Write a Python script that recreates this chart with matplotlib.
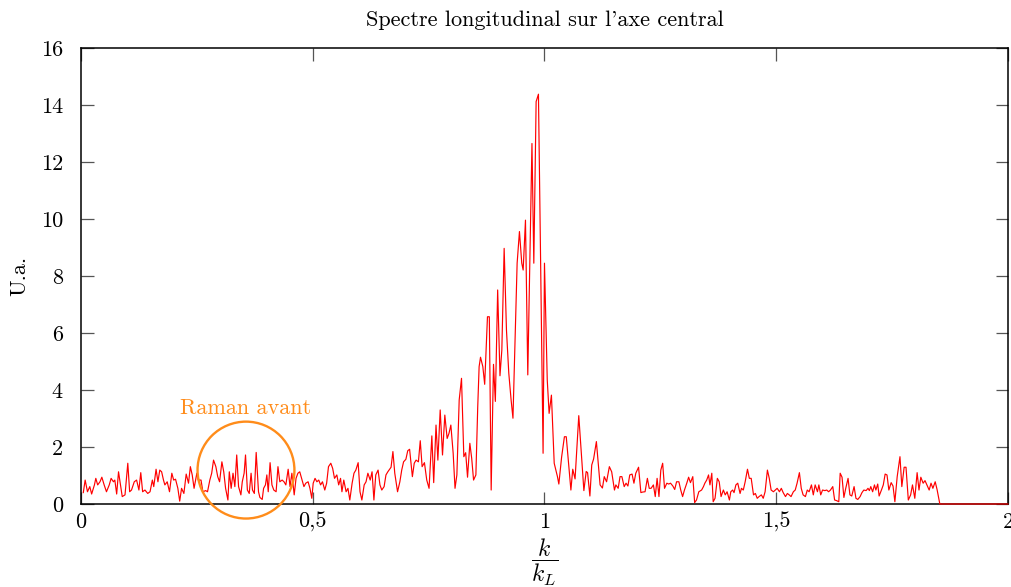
import matplotlib
matplotlib.use("Agg")
import matplotlib.pyplot as plt
from matplotlib.patches import Ellipse

# ---------------- data ----------------
k_values = [
    0.005, 0.009, 0.014, 0.019, 0.023, 0.029, 0.032, 0.036, 0.041, 0.045,
    0.050, 0.055, 0.061, 0.065, 0.070, 0.073, 0.077, 0.081, 0.085, 0.089,
    0.095, 0.101, 0.105, 0.109, 0.115, 0.120, 0.125, 0.129, 0.133, 0.138,
    0.144, 0.149, 0.154, 0.157, 0.162, 0.166, 0.170, 0.174, 0.178, 0.181,
    0.186, 0.191, 0.196, 0.200, 0.204, 0.209, 0.213, 0.217, 0.222, 0.227,
    0.232, 0.236, 0.240, 0.244, 0.250, 0.253, 0.259, 0.263, 0.269, 0.273,
    0.278, 0.282, 0.286, 0.291, 0.295, 0.299, 0.304, 0.308, 0.312, 0.317,
    0.320, 0.324, 0.328,
    0.332, 0.336, 0.340, 0.345, 0.348, 0.352, 0.355, 0.359, 0.363, 0.367,
    0.370, 0.374, 0.378, 0.383, 0.386, 0.391, 0.394, 0.398, 0.401, 0.404,
    0.408, 0.412, 0.416, 0.421, 0.425, 0.429, 0.434, 0.438, 0.442, 0.447,
    0.451, 0.455, 0.460, 0.464, 0.468, 0.472, 0.477, 0.481, 0.485, 0.490,
    0.494, 0.498, 0.501, 0.505, 0.509, 0.513, 0.517, 0.521, 0.526, 0.530,
    0.534, 0.539, 0.543, 0.547, 0.552, 0.556, 0.560, 0.563, 0.567, 0.572,
    0.576, 0.580, 0.585, 0.589, 0.593, 0.598, 0.602, 0.606, 0.611, 0.615,
    0.619, 0.624, 0.628, 0.632, 0.636, 0.641, 0.645, 0.649, 0.654, 0.658,
    0.662,
    0.669, 0.673, 0.677, 0.683, 0.688, 0.692, 0.696, 0.701, 0.705, 0.709,
    0.715, 0.719, 0.723, 0.728, 0.732, 0.736, 0.741,
    0.746, 0.751, 0.757, 0.761, 0.766, 0.770, 0.775, 0.780, 0.785, 0.790,
    0.794, 0.798, 0.803, 0.807, 0.811, 0.816, 0.821, 0.826, 0.830, 0.834,
    0.839, 0.843, 0.847, 0.852, 0.856, 0.859,
    0.862, 0.867, 0.871, 0.877, 0.881, 0.885, 0.890, 0.894, 0.899, 0.904,
    0.908, 0.913, 0.918, 0.923, 0.928, 0.932, 0.937, 0.941, 0.946,
    0.951, 0.954, 0.959, 0.964, 0.973, 0.977, 0.982, 0.987, 0.997, 1.000,
    1.006, 1.010, 1.015, 1.021, 1.028,
    1.031, 1.037, 1.043, 1.047, 1.057, 1.061, 1.066, 1.074, 1.085, 1.090,
    1.093, 1.098, 1.102, 1.106, 1.112, 1.120, 1.125, 1.129, 1.134, 1.140,
    1.145, 1.151,
    1.154, 1.159, 1.163, 1.167, 1.172, 1.176, 1.180, 1.184, 1.189, 1.193,
    1.197, 1.203, 1.208, 1.212, 1.217, 1.222, 1.226, 1.230, 1.235, 1.239,
    1.243, 1.247, 1.251, 1.255, 1.259, 1.264, 1.268, 1.272, 1.277, 1.281,
    1.285, 1.290, 1.294, 1.298, 1.302, 1.307, 1.311, 1.315, 1.320, 1.324,
    1.328, 1.333,
    1.339, 1.343, 1.346, 1.350, 1.354, 1.357, 1.361, 1.364, 1.368, 1.373,
    1.377, 1.381, 1.386, 1.390, 1.394, 1.399, 1.402, 1.406, 1.409, 1.413,
    1.417, 1.422, 1.425, 1.429, 1.433, 1.438, 1.442, 1.446, 1.451, 1.455,
    1.459, 1.463, 1.468, 1.472, 1.476, 1.481, 1.485, 1.489, 1.494, 1.498,
    1.502, 1.507, 1.511, 1.515, 1.520, 1.524, 1.528, 1.532, 1.537, 1.541,
    1.545, 1.550, 1.554, 1.558, 1.563, 1.567, 1.571, 1.576, 1.580, 1.584,
    1.589, 1.592, 1.596, 1.600, 1.605, 1.609, 1.613, 1.617, 1.622, 1.626,
    1.630, 1.635, 1.638, 1.642, 1.646, 1.650, 1.655, 1.659,
    1.663, 1.668, 1.672, 1.676, 1.681, 1.685, 1.689, 1.694, 1.698, 1.701,
    1.704, 1.708, 1.712, 1.715, 1.719, 1.722, 1.727, 1.731, 1.735, 1.739,
    1.743, 1.748, 1.752, 1.756, 1.761, 1.767, 1.771, 1.776, 1.780, 1.785,
    1.790, 1.794, 1.799, 1.804, 1.808, 1.812, 1.817, 1.821, 1.825, 1.830,
    1.834, 1.838, 1.843, 1.847, 1.853, 2.000,
]

amplitude = [
    0.40, 0.84, 0.43, 0.61, 0.35, 0.67, 0.90, 0.67, 0.78, 0.94,
    0.67, 0.43, 0.67, 0.90, 0.78, 0.84, 0.35, 1.13, 0.70, 0.26,
    0.32, 1.43, 0.43, 0.49, 0.78, 0.84, 0.49, 1.10, 0.43, 0.49,
    0.37, 0.43, 0.84, 0.61, 1.22, 0.78, 1.19, 1.13, 0.84, 0.67,
    0.78, 0.43, 1.08, 0.84, 0.87, 0.55, 0.10, 0.55, 0.37, 1.05,
    0.73, 1.31, 1.02, 0.55, 1.08, 0.84, 0.84, 0.43, 0.47, 0.43,
    0.84, 1.08, 1.54, 1.31, 0.96, 0.78, 1.48, 1.13, 0.55, 0.14,
    1.13, 0.55, 1.08,
    0.61, 1.72, 0.61, 0.32, 0.78, 1.08, 1.72, 0.49, 0.37, 1.08,
    0.49, 0.37, 1.81, 0.43, 0.23, 0.16, 0.55, 0.67, 1.02, 0.43,
    1.45, 0.67, 0.49, 0.43, 1.31, 0.78, 0.84, 0.78, 0.67, 1.22,
    0.61, 1.08, 0.32, 0.90, 1.08, 1.13, 0.84, 0.61, 0.73, 0.78,
    0.55, 0.20, 0.73, 0.90, 0.78, 0.84, 0.67, 0.78, 0.49, 0.73,
    1.31, 1.43, 1.25, 0.90, 1.02, 0.67, 0.90, 0.43, 0.84, 0.43,
    0.55, 0.14, 0.73, 1.08, 1.19, 1.45, 0.43, 0.14, 0.67, 0.78,
    1.08, 0.84, 1.13, 0.14, 1.02, 1.19, 0.67, 0.49, 0.61, 1.02,
    1.13,
    1.29, 1.84, 1.08, 0.43, 0.78, 1.19, 1.48, 1.57, 1.87, 1.92,
    0.96, 1.43, 1.54, 1.48, 2.22, 1.31, 1.45,
    0.84, 0.55, 2.39, 0.75, 2.77, 1.54, 3.30, 1.72, 3.12, 2.30,
    2.48, 2.77, 1.78, 0.55, 1.02, 3.65, 4.41, 1.66, 1.80, 0.94,
    2.13, 1.60, 0.84, 1.02, 3.41, 4.82,
    5.15, 4.82, 4.20, 6.57, 6.57, 0.49, 4.90, 3.60, 7.51, 4.50,
    5.40, 8.97, 6.10, 4.59, 3.65, 3.01, 6.10, 8.45, 9.56,
    8.45, 8.21, 9.96, 4.53, 12.65, 8.45, 14.12, 14.38, 1.78, 8.45,
    4.35, 3.18, 3.82, 1.43, 0.96,
    0.70, 1.65, 2.36, 2.36, 0.49, 1.22, 0.88, 3.10, 0.47, 1.14,
    1.10, 0.28, 1.37, 1.58, 2.19, 0.67, 0.56, 0.96, 0.78, 1.31,
    1.13, 0.49,
    0.67, 0.55, 0.96, 0.96, 0.61, 0.73, 0.63, 1.02, 1.05, 0.73,
    1.08, 1.29, 0.40, 0.42, 0.43, 0.90, 0.55, 0.55, 0.67, 0.26,
    0.90, 0.26, 1.19, 1.43, 0.55, 0.73, 0.70, 0.73, 0.63, 0.51,
    0.78, 0.78, 0.49, 0.26, 0.49, 0.73, 0.94, 0.75, 0.96, 0.05,
    0.14, 0.43,
    0.49, 0.61, 0.73, 0.84, 1.02, 0.67, 1.08, 0.08, 0.20, 0.90,
    0.78, 0.26, 0.49, 0.32, 0.43, 0.14, 0.43, 0.49, 0.40, 0.67,
    0.73, 0.37, 0.55, 0.49, 0.78, 1.22, 0.90, 0.90, 0.32, 0.37,
    0.20, 0.26, 0.32, 0.20, 0.43, 1.19, 0.90, 0.49, 0.43, 0.49,
    0.55, 0.43, 0.55, 0.40, 0.26, 0.37, 0.32, 0.26, 0.43, 0.49,
    0.73, 1.10, 0.55, 0.32, 0.26, 0.49, 0.43, 0.67, 0.32, 0.67,
    0.43, 0.67, 0.32, 0.49, 0.47, 0.49, 0.43, 0.49, 0.61, 0.14,
    0.12, 0.08, 1.08, 0.94, 0.23, 0.55, 0.90, 0.32,
    0.28, 0.61, 0.20, 0.16, 0.26, 0.40, 0.49, 0.47, 0.55, 0.47,
    0.61, 0.43, 0.67, 0.49, 0.70, 0.28, 0.49, 0.67, 1.05, 1.02,
    0.49, 0.75, 0.63, 0.08, 0.96, 1.66, 0.61, 1.29, 1.29, 0.14,
    0.32, 0.67, 0.20, 1.10, 0.49, 0.94, 0.73, 0.82, 0.67, 0.49,
    0.73, 0.55, 0.78, 0.51, 0.00, 0.00,
]

x_ticks = [0, 0.5, 1, 1.5, 2]
x_tick_labels = ["0", "0,5", "1", "1,5", "2"]
y_ticks = [0, 2, 4, 6, 8, 10, 12, 14, 16]
y_tick_labels = [str(v) for v in y_ticks]

title_text = "Spectre longitudinal sur l'axe central"
annotation_text = "Raman avant"

# ---------------- style ----------------
plt.rcParams["font.family"] = "cmr10"
plt.rcParams["mathtext.fontset"] = "cm"
plt.rcParams["axes.unicode_minus"] = False

FS = 16
ORANGE = "#FF8C1A"

fig = plt.figure(figsize=(10.11, 5.87), dpi=100)
ax = fig.add_axes([0.0801, 0.1414, 0.9169, 0.7768])

ax.plot(k_values, amplitude, color="red", lw=0.85, zorder=3, clip_on=False)

ax.set_xlim(0, 2)
ax.set_ylim(0, 16)
ax.set_xticks(x_ticks)
ax.set_xticklabels(x_tick_labels, fontsize=FS)
ax.set_yticks(y_ticks)
ax.set_yticklabels(y_tick_labels, fontsize=FS)
ax.tick_params(axis="both", direction="in", top=True, right=True,
               length=9, width=0.9, color="#555555")
ax.tick_params(axis="x", pad=6)
ax.tick_params(axis="y", pad=13)
for s in ax.spines.values():
    s.set_linewidth(1.1)
    s.set_color("black")

ax.set_title(title_text, fontsize=FS, pad=16)
ax.set_ylabel("U.a.", fontsize=FS, labelpad=8)
ax.set_xlabel(r"$\dfrac{k}{k_L}$", fontsize=17, labelpad=3)

# annotation circle (Raman avant)
circle_center = (0.356, 1.19)
circle_w = 0.209
circle_h = 3.40
ax.add_patch(Ellipse(circle_center, circle_w, circle_h, fill=False,
                     edgecolor=ORANGE, lw=1.7, zorder=4, clip_on=False))
ax.text(0.356, 3.35, annotation_text, color=ORANGE, fontsize=FS,
        ha="center", va="center")

fig.savefig("out.png", dpi=100)
